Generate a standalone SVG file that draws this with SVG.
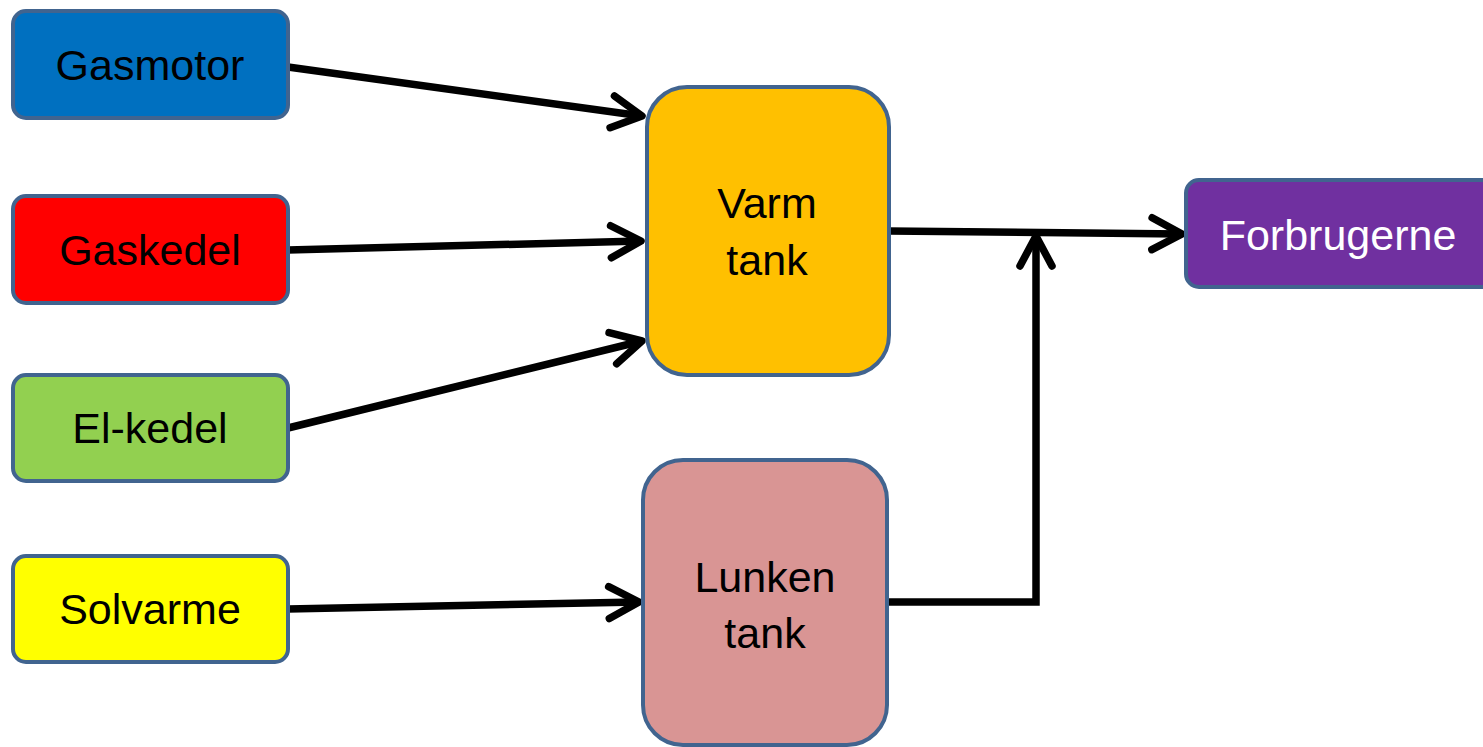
<svg xmlns="http://www.w3.org/2000/svg" width="1483" height="747" viewBox="0 0 1483 747">
<style>
.box{stroke:#41648F;stroke-width:4}
.lbl{font-family:"Liberation Sans",Arial,sans-serif;font-size:43px;text-anchor:middle;fill:#000}
.wl{fill:#fff}
.con{fill:none;stroke:#000;stroke-width:7.5}
</style>
<defs>
<marker id="ah" markerUnits="userSpaceOnUse" orient="auto" refX="0" refY="0" markerWidth="60" markerHeight="60" viewBox="-40 -30 60 60" overflow="visible">
<path d="M-30,-16 L0,0 L-30,16" fill="none" stroke="#000" stroke-width="7.5" stroke-linecap="round" stroke-linejoin="round"/>
</marker>
</defs>
<rect width="1483" height="747" fill="#fff"/>
<g id="connectors">
<path class="con" d="M288,67 L642,116" marker-end="url(#ah)"/>
<path class="con" d="M288,250 L641,241" marker-end="url(#ah)"/>
<path class="con" d="M288,428 L642,341" marker-end="url(#ah)"/>
<path class="con" d="M288,609 L639,602" marker-end="url(#ah)"/>
<path class="con" d="M889,231 L1182,234" marker-end="url(#ah)"/>
<path class="con" d="M887,602 L1036,602 L1036,236" marker-end="url(#ah)"/>
</g>
<g id="gasmotor">
<rect class="box" x="13" y="11" width="275" height="107" rx="13" fill="#0070C0"/>
<text class="lbl" x="150" y="80">Gasmotor</text>
</g>
<g id="gaskedel">
<rect class="box" x="13" y="196" width="275" height="107" rx="13" fill="#FF0000"/>
<text class="lbl" x="150" y="265">Gaskedel</text>
</g>
<g id="elkedel">
<rect class="box" x="13" y="375" width="275" height="106" rx="13" fill="#92D050"/>
<text class="lbl" x="150" y="443">El-kedel</text>
</g>
<g id="solvarme">
<rect class="box" x="13" y="556" width="275" height="106" rx="13" fill="#FFFF00"/>
<text class="lbl" x="150" y="624">Solvarme</text>
</g>
<g id="varmtank">
<rect class="box" x="647" y="87" width="242" height="288" rx="40" fill="#FFC000"/>
<text class="lbl" x="767" y="218">Varm</text>
<text class="lbl" x="767" y="275">tank</text>
</g>
<g id="lunkentank">
<rect class="box" x="643" y="460" width="244" height="285" rx="40" fill="#D99594"/>
<text class="lbl" x="765" y="592">Lunken</text>
<text class="lbl" x="765" y="648">tank</text>
</g>
<g id="forbrugerne">
<rect class="box" x="1186" y="180" width="310" height="107" rx="13" fill="#7030A0"/>
<text class="lbl wl" x="1338" y="250">Forbrugerne</text>
</g>
</svg>
